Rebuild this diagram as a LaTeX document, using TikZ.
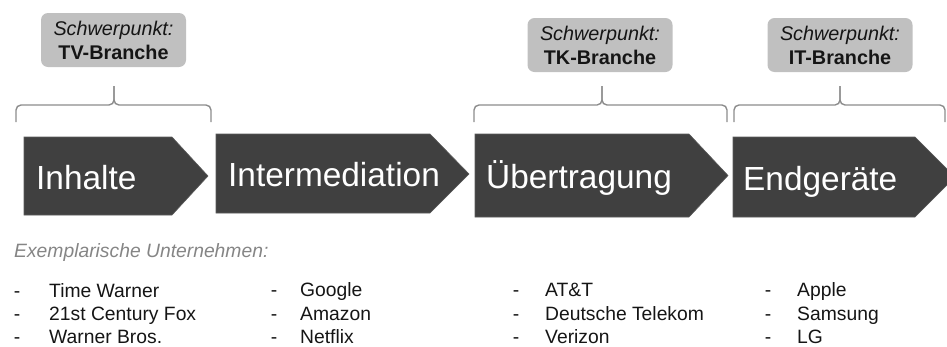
\documentclass[tikz,border=0pt]{standalone}
\usepackage{fontspec}
\setmainfont{Liberation Sans}
\definecolor{chev}{HTML}{404040}
\definecolor{chevline}{HTML}{5A5A5A}
\definecolor{boxgrey}{HTML}{C0C0C0}
\definecolor{bracegrey}{HTML}{8C8C8C}
\definecolor{labgrey}{HTML}{858585}
\definecolor{txt}{HTML}{151515}
\tikzset{
  chevron/.style={fill=chev,draw=chevline,line width=0.6pt},
  chevtext/.style={anchor=base west,text=white,font=\fontsize{33.4}{36}\selectfont,inner sep=0pt},
  focusbox/.style={fill=boxgrey,rounded corners=7pt,minimum width=145pt,minimum height=54pt,inner sep=0pt,align=center,text=txt,font=\fontsize{19.8}{24}\selectfont},
  bracket/.style={draw=bracegrey,line width=1.4pt,rounded corners=5pt},
  listdash/.style={anchor=base,inner sep=0pt,text=txt,font=\fontsize{19.3}{22}\selectfont},
  listitem/.style={anchor=base west,inner sep=0pt,text=txt,font=\fontsize{19.3}{22}\selectfont},
}
\begin{document}
\begin{tikzpicture}[x=1pt,y=-1pt]
\useasboundingbox (0,0) rectangle (947,346);
% chevrons
\draw[chevron] (24,137) -- (172,137) -- (208,176) -- (172,215) -- (24,215) -- cycle;
\draw[chevron] (216,134) -- (430,134) -- (469,174) -- (430,213) -- (216,213) -- cycle;
\draw[chevron] (475,134) -- (689,134) -- (728,175.5) -- (689,217) -- (475,217) -- cycle;
\draw[chevron] (733,137) -- (915,137) -- (955,177) -- (915,217) -- (733,217) -- cycle;
\node[chevtext] (inh) at (36,189) {Inhalte};
\node[chevtext] (int) at (228,186) {Intermediation};
\node[chevtext] (ueb) at (486,188) {Übertragung};
\node[chevtext] (end) at (743,190) {Endgeräte};
% braces
\coordinate (b1l) at (16,122); \coordinate (b1m) at (114,105); \coordinate (b1r) at (211,122);
\draw[bracket] (b1l) |- (b1m) -- ++(0,-19);
\draw[bracket] (b1r) |- (b1m) -- ++(0,-19);
\coordinate (b2l) at (474,122); \coordinate (b2m) at (602,105); \coordinate (b2r) at (727,122);
\draw[bracket] (b2l) |- (b2m) -- ++(0,-19);
\draw[bracket] (b2r) |- (b2m) -- ++(0,-19);
\coordinate (b3l) at (734,122); \coordinate (b3m) at (840,105); \coordinate (b3r) at (945,122);
\draw[bracket] (b3l) |- (b3m) -- ++(0,-19);
\draw[bracket] (b3r) |- (b3m) -- ++(0,-19);
% focus boxes
\node[focusbox] (tv) at (113.5,40) {\textit{Schwerpunkt:}\\\textbf{TV-Branche}};
\node[focusbox] (tk) at (600,45) {\textit{Schwerpunkt:}\\\textbf{TK-Branche}};
\node[focusbox] (it) at (840,45) {\textit{Schwerpunkt:}\\\textbf{IT-Branche}};
% examples
\node[anchor=base west,inner sep=0pt,text=labgrey,font=\fontsize{19.3}{22}\selectfont\itshape] (ex) at (14,257) {Exemplarische Unternehmen:};
% column 1
\node[listdash] (d11) at (17,297) {-}; \node[listitem] (c11) at (49,297) {Time Warner};
\node[listdash] (d12) at (17,320) {-}; \node[listitem] (c12) at (49,320) {21st Century Fox};
\node[listdash] (d13) at (17,343) {-}; \node[listitem] (c13) at (49,343) {Warner Bros.};
% column 2
\node[listdash] (d21) at (274,296) {-}; \node[listitem] (c21) at (300,296) {Google};
\node[listdash] (d22) at (274,320) {-}; \node[listitem] (c22) at (300,320) {Amazon};
\node[listdash] (d23) at (274,343) {-}; \node[listitem] (c23) at (300,343) {Netflix};
% column 3
\node[listdash] (d31) at (516,296) {-}; \node[listitem] (c31) at (545,296) {AT\&T};
\node[listdash] (d32) at (516,320) {-}; \node[listitem] (c32) at (545,320) {Deutsche Telekom};
\node[listdash] (d33) at (516,343) {-}; \node[listitem] (c33) at (545,343) {Verizon};
% column 4
\node[listdash] (d41) at (768,296) {-}; \node[listitem] (c41) at (797,296) {Apple};
\node[listdash] (d42) at (768,320) {-}; \node[listitem] (c42) at (797,320) {Samsung};
\node[listdash] (d43) at (768,343) {-}; \node[listitem] (c43) at (797,343) {LG};
\end{tikzpicture}
\end{document}
